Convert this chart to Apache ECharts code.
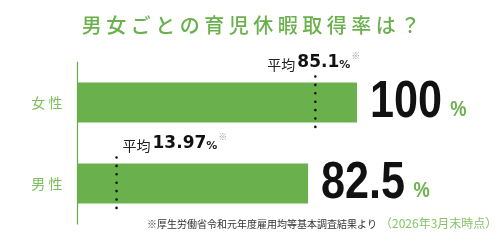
<!DOCTYPE html>
<html>
<head>
<meta charset="utf-8">
<script src="https://cdn.jsdelivr.net/npm/echarts@6/dist/echarts.min.js"></script>
<style>
  html, body { margin: 0; padding: 0; background: #fff; }
  #main { width: 502px; height: 241px; }
</style>
</head>
<body>
<div id="main"></div>
<script>
var categories = ['女性', '男性'];
var rates = [100, 82.5];
var averages = [85.1, 13.97];
var titleText = '男女ごとの育児休暇取得率は？';
var noteText = '※厚生労働省令和元年度雇用均等基本調査結果より';
var dateText = '（2026年3月末時点）';

var GREEN = '#6ab14d';
var LIGHT = '#7cbf5a';
var CJK = '"Noto Sans CJK JP", "Noto Sans", sans-serif';
var NUM = '"Liberation Sans", Arial, sans-serif';

// where the "平均" label sits relative to its dotted line
var avgLabelDx = [-48, 6];

var chart = echarts.init(document.getElementById('main'), null, { renderer: 'canvas' });

var option = {
    animation: false,
    grid: { left: 77.5, top: 62, width: 279.5, height: 162 },
    xAxis: { type: 'value', min: 0, max: 100, show: false },
    yAxis: {
        type: 'category',
        data: categories,
        inverse: true,
        axisLine: { show: true, lineStyle: { color: '#62ad44', width: 1.2 } },
        axisTick: { show: false },
        splitLine: { show: false },
        axisLabel: {
            margin: 15,
            color: LIGHT,
            fontSize: 14,
            fontFamily: CJK,
            formatter: function (v) { return v.split('').join(' '); }
        }
    },
    graphic: [
        {
            type: 'text', left: 'center', top: 15,
            style: {
                text: titleText.split('').join(' '),
                fill: GREEN, font: '500 20px ' + CJK
            }
        },
        {
            type: 'text', left: 147, top: 219,
            style: { text: noteText, fill: '#333', font: '10px ' + CJK }
        },
        {
            type: 'text', left: 380, top: 217,
            style: { text: dateText, fill: '#86c266', font: '12px ' + CJK }
        }
    ],
    series: [
        {
            type: 'bar',
            data: rates,
            barWidth: 40,
            itemStyle: { color: GREEN }
        },
        {
            // big value labels, slightly condensed
            type: 'custom',
            data: rates.map(function (v, i) { return [v, i]; }),
            encode: { x: 0, y: 1 },
            z: 4,
            renderItem: function (params, api) {
                var pt = api.coord([api.value(0), api.value(1)]);
                return {
                    type: 'text',
                    x: pt[0] + 13,
                    y: pt[1] + 26,
                    scaleX: 0.83,
                    style: {
                        text: '{v|' + api.value(0) + '}{p|%}',
                        align: 'left',
                        verticalAlign: 'bottom',
                        rich: {
                            v: { fontFamily: NUM, fontWeight: 'bold', fontSize: 52, fill: '#111', verticalAlign: 'bottom', lineHeight: 52 },
                            p: { fontFamily: NUM, fontWeight: 'bold', fontSize: 22, fill: GREEN, verticalAlign: 'bottom', lineHeight: 22, padding: [0, 0, 8, 10] }
                        }
                    }
                };
            }
        },
        {
            type: 'custom',
            data: averages.map(function (v, i) { return [v, i]; }),
            encode: { x: 0, y: 1 },
            z: 5,
            renderItem: function (params, api) {
                var pt = api.coord([api.value(0), api.value(1)]);
                var i = params.dataIndex;
                return {
                    type: 'group',
                    children: [
                        {
                            type: 'line',
                            shape: { x1: pt[0], y1: pt[1] - 26, x2: pt[0], y2: pt[1] + 25 },
                            style: { stroke: '#111', lineWidth: 2.6, lineDash: [0, 8.4], lineCap: 'round' }
                        },
                        {
                            type: 'text',
                            x: pt[0] + avgLabelDx[i],
                            y: pt[1] - 31,
                            style: {
                                text: '{a|平均}{n|' + api.value(0) + '}{p|%}{s|※}',
                                verticalAlign: 'bottom',
                                align: 'left',
                                rich: {
                                    a: { fontFamily: CJK, fontSize: 14, fill: '#222', verticalAlign: 'bottom', lineHeight: 16 },
                                    n: { fontFamily: '"DejaVu Sans", sans-serif', fontWeight: 'bold', fontSize: 17, fill: '#111', verticalAlign: 'bottom', lineHeight: 18, padding: [0, 0, 0, 2] },
                                    p: { fontFamily: '"DejaVu Sans", sans-serif', fontWeight: 'bold', fontSize: 11, fill: '#222', verticalAlign: 'bottom', lineHeight: 13, padding: [0, 0, 1, 0] },
                                    s: { fontFamily: CJK, fontSize: 9, fill: '#999', verticalAlign: 'bottom', lineHeight: 9, padding: [0, 0, 11, 1] }
                                }
                            }
                        }
                    ]
                };
            }
        }
    ]
};

chart.setOption(option);
</script>
</body>
</html>
